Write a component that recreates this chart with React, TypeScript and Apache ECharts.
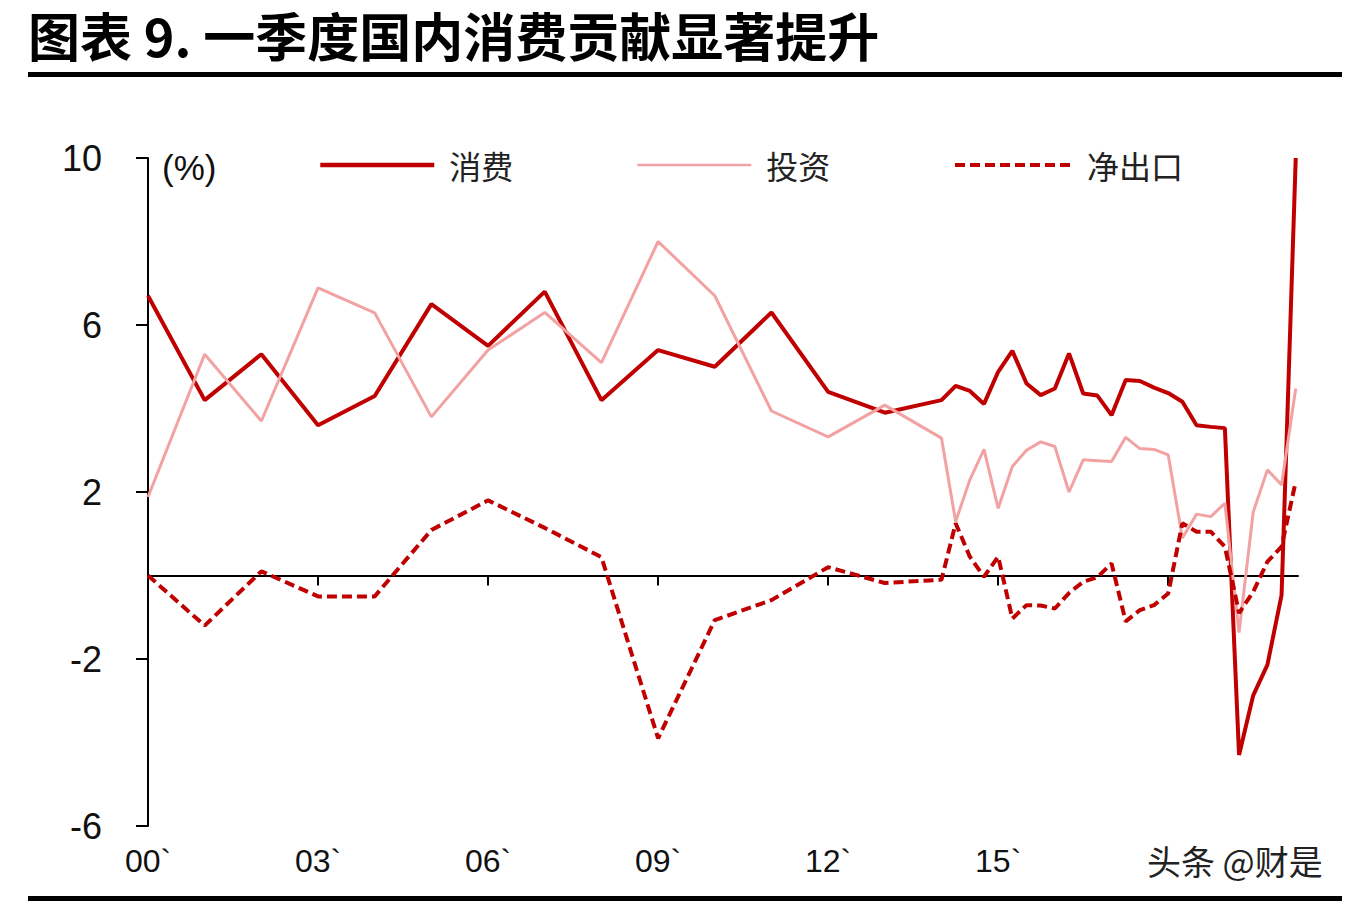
import React, { useEffect, useRef } from "react";
import * as echarts from "echarts";

// x positions (years; annual 2000-2013, then quarterly steps)
const periods = [
  2000, 2001, 2002, 2003, 2004, 2005, 2006, 2007, 2008, 2009, 2010, 2011, 2012, 2013,
  2014, 2014.25, 2014.5, 2014.75, 2015, 2015.25, 2015.5, 2015.75,
  2016, 2016.25, 2016.5, 2016.75, 2017, 2017.25, 2017.5, 2017.75,
  2018, 2018.25, 2018.5, 2018.75, 2019, 2019.25, 2019.5, 2019.75,
  2020, 2020.25,
];

const consumption = [
  6.7, 4.2, 5.3, 3.6, 4.3, 6.5, 5.5, 6.8, 4.2, 5.4, 5.0, 6.3, 4.4, 3.9,
  4.2, 4.54, 4.42, 4.11, 4.88, 5.38, 4.6, 4.32,
  4.48, 5.32, 4.36, 4.31, 3.84, 4.68, 4.66, 4.5,
  4.37, 4.16, 3.6, 3.56, 3.53, -4.3, -2.87, -2.14,
  -0.47, 10.0,
];

const investment = [
  1.88, 5.3, 3.7, 6.89, 6.29, 3.8, 5.4, 6.3, 5.1, 8.0, 6.7, 3.94, 3.32, 4.08,
  3.29, 1.29, 2.29, 3.02, 1.61, 2.61, 3.0, 3.2,
  3.09, 2.0, 2.77, 2.75, 2.73, 3.31, 3.04, 3.02,
  2.89, 0.9, 1.47, 1.41, 1.73, -1.37, 1.52, 2.53,
  2.17, 4.48,
];

const netExports = [
  0, -1.2, 0.1, -0.5, -0.5, 1.09, 1.8, 1.14, 0.44, -3.9, -1.07, -0.59, 0.2, -0.18,
  -0.1, 1.25, 0.45, -0.03, 0.45, -1.03, -0.71, -0.72,
  -0.79, -0.42, -0.15, -0.04, 0.29, -1.1, -0.83, -0.71,
  -0.43, 1.25, 1.05, 1.05, 0.69, -0.9, -0.39, 0.33,
  0.69, 2.25,
];

const seriesNames = ["消费", "投资", "净出口"];
const xTickYears = [2000, 2003, 2006, 2009, 2012, 2015, 2018];
// the 18` label is hidden under the watermark in the reference
const xLabelYears = [2000, 2003, 2006, 2009, 2012, 2015];
const xLabels = ["00`", "03`", "06`", "09`", "12`", "15`"];
const yTicks = [-6, -2, 2, 6, 10];

const titleText = "图表 9. 一季度国内消费贡献显著提升";
const unitText = "(%)";
const watermarkText = "头条 @财是";

const DARK = "#C00000";
const PINK = "#F2A2A2";
const NUM_FONT = "'Liberation Sans Narrow', 'Liberation Sans', Arial, sans-serif";
const CJK_FONT = "'Noto Sans CJK SC', 'Noto Sans', sans-serif";

export default function App() {
  const ref = useRef<HTMLDivElement>(null);

  useEffect(() => {
    if (!ref.current) return;
    const chart = echarts.init(ref.current, undefined, { renderer: "svg" });
    const toPairs = (vals: number[]) => periods.map((p, i) => [p, vals[i]]);

    const legendBase = {
      top: 149,
      padding: 0,
      itemHeight: 14,
      itemStyle: { opacity: 0, color: "transparent", borderWidth: 0 },
      textStyle: {
        fontSize: 32,
        color: "#222",
        fontFamily: CJK_FONT,
        padding: [0, 0, 0, 10],
      },
    };

    chart.setOption({
      animation: false,
      backgroundColor: "#ffffff",
      legend: [
        { ...legendBase, data: [seriesNames[0]], left: 318, itemWidth: 114, lineStyle: { width: 4.5 } },
        { ...legendBase, data: [seriesNames[1]], left: 636, itemWidth: 114, lineStyle: { width: 2.5 } },
        { ...legendBase, data: [seriesNames[2]], left: 953, itemWidth: 117, lineStyle: { width: 4 } },
      ],
      grid: { left: 148, right: 54, top: 158, bottom: 86 },
      xAxis: [
        {
          type: "value",
          min: 2000,
          max: 2020.29,
          position: "bottom",
          axisLine: { show: true, onZero: true, lineStyle: { color: "#000", width: 2 } },
          axisTick: {
            show: true,
            customValues: xTickYears,
            length: 10,
            lineStyle: { color: "#000", width: 2 },
          },
          axisLabel: { show: false },
          splitLine: { show: false },
        },
        {
          type: "value",
          min: 2000,
          max: 2020.29,
          position: "bottom",
          axisLine: { show: false, onZero: false },
          axisTick: { show: false },
          axisLabel: {
            show: true,
            customValues: xLabelYears,
            margin: 19,
            fontSize: 32,
            color: "#111",
            fontFamily: NUM_FONT,
            formatter: (v: number) => {
              const i = xLabelYears.indexOf(Math.round(v));
              return i >= 0 ? xLabels[i] : "";
            },
          },
          splitLine: { show: false },
        },
      ],
      yAxis: {
        type: "value",
        min: -6,
        max: 10,
        axisLine: { show: true, onZero: false, lineStyle: { color: "#000", width: 2 } },
        axisTick: {
          show: true,
          customValues: yTicks,
          length: 12,
          lineStyle: { color: "#000", width: 2 },
        },
        axisLabel: {
          customValues: yTicks,
          margin: 46,
          fontSize: 36,
          color: "#111",
          fontFamily: NUM_FONT,
        },
        splitLine: { show: false },
      },
      series: [
        {
          name: seriesNames[0],
          type: "line",
          data: toPairs(consumption),
          showSymbol: false,
          symbol: "none",
          lineStyle: { color: DARK, width: 4 },
          itemStyle: { color: DARK },
        },
        {
          name: seriesNames[1],
          type: "line",
          data: toPairs(investment),
          showSymbol: false,
          symbol: "none",
          lineStyle: { color: PINK, width: 3 },
          itemStyle: { color: PINK },
        },
        {
          name: seriesNames[2],
          type: "line",
          data: toPairs(netExports),
          showSymbol: false,
          symbol: "none",
          lineStyle: { color: DARK, width: 4, type: [10, 5] },
          itemStyle: { color: DARK },
        },
      ],
      graphic: [
        {
          type: "text",
          x: 28,
          y: 34,
          style: {
            text: titleText,
            fontSize: 52,
            fontWeight: "bold",
            fill: "#000",
            fontFamily: CJK_FONT,
            verticalAlign: "middle",
          },
        },
        { type: "rect", shape: { x: 28, y: 72, width: 1314, height: 5 }, style: { fill: "#000" } },
        { type: "rect", shape: { x: 28, y: 896, width: 1314, height: 5 }, style: { fill: "#000" } },
        {
          type: "text",
          x: 162,
          y: 150,
          style: { text: unitText, fontSize: 35, fill: "#111", fontFamily: NUM_FONT },
        },
        {
          type: "text",
          x: 1147,
          y: 843,
          style: {
            text: watermarkText,
            fontSize: 34,
            fill: "#222",
            fontFamily: CJK_FONT,
          },
        },
      ],
    });
    return () => chart.dispose();
  }, []);

  return (
    <div
      ref={ref}
      style={{ position: "fixed", left: 0, top: 0, width: 1352, height: 912 }}
    />
  );
}
